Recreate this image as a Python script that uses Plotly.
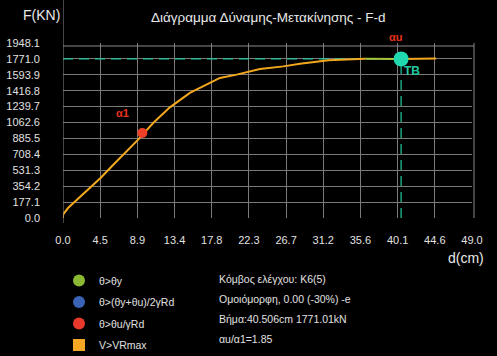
import plotly.graph_objects as go

# ---- data ----
d_cm = [0.0, 0.0, 0.6, 3.0, 4.5, 6.0, 9.0, 10.8, 12.8, 15.2, 17.6, 18.8, 20.8, 23.6,
        26.4, 28.4, 31.8, 34.0, 36.2]
F_kn = [0, 37, 111, 318, 445, 590, 872, 1058, 1232, 1392, 1503, 1559, 1596, 1659,
        1688, 1718, 1755, 1768, 1774]
d_green = [36.2, 38.5, 40.506]
F_green = [1774, 1772, 1771.01]
d_after = [40.506, 42.5, 44.7]
F_after = [1771.01, 1774, 1776]

a1_d, a1_F = 9.5, 947
tb_d, tb_F = 40.506, 1771.01

x_max = 49.0
y_max = 1948.1
n_int = 11
x_tickvals = [x_max * i / n_int for i in range(n_int + 1)]
x_ticktext = ["0.0", "4.5", "8.9", "13.4", "17.8", "22.3", "26.7", "31.2", "35.6", "40.1", "44.6", "49.0"]
y_tickvals = [y_max * i / n_int for i in range(n_int + 1)]
y_ticktext = ["0.0", "177.1", "354.2", "531.3", "708.4", "885.5", "1062.6", "1239.7",
              "1416.8", "1593.9", "1771.0", "1948.1"]

legend_names = ["θ>θy", "θ>(θy+θu)/2γRd", "θ>θu/γRd", "V>VRmax"]
legend_colors = ["#8ab833", "#3a63b5", "#e8392a", "#f5a623"]
legend_symbols = ["circle", "circle", "circle", "square"]

info_lines = ["Κόμβος ελέγχου: K6(5)", "Ομοιόμορφη, 0.00 (-30%) -e",
              "Βήμα:40.506cm 1771.01kN", "αu/α1=1.85"]

FONT = "Liberation Sans, Arial, sans-serif"
CURVE = "#f2a81d"
TEAL = "#22c9a0"

fig = go.Figure()

# dashed reference lines
fig.add_trace(go.Scatter(x=[0, tb_d], y=[tb_F, tb_F], mode="lines",
                         line=dict(color=TEAL, width=1.2, dash="10px,6px"),
                         showlegend=False, hoverinfo="skip"))
fig.add_trace(go.Scatter(x=[tb_d, tb_d], y=[0, tb_F], mode="lines",
                         line=dict(color=TEAL, width=1.2, dash="10px,6px"),
                         showlegend=False, hoverinfo="skip"))

# curve
fig.add_trace(go.Scatter(x=d_cm, y=F_kn, mode="lines",
                         line=dict(color=CURVE, width=2), showlegend=False))
fig.add_trace(go.Scatter(x=d_green, y=F_green, mode="lines",
                         line=dict(color="#a8c43c", width=2), showlegend=False))
fig.add_trace(go.Scatter(x=d_after, y=F_after, mode="lines",
                         line=dict(color=CURVE, width=2), showlegend=False))

# markers
fig.add_trace(go.Scatter(x=[a1_d], y=[a1_F], mode="markers",
                         marker=dict(color="#f0402a", size=10), showlegend=False))
fig.add_trace(go.Scatter(x=[tb_d], y=[tb_F], mode="markers",
                         marker=dict(color="#1fd8b0", size=15), showlegend=False))

# legend entries
for i, (name, col, sym) in enumerate(zip(legend_names, legend_colors, legend_symbols)):
    fig.add_trace(go.Scatter(x=[None], y=[None], mode="markers", name=name,
                             legendgroup="g%d" % i,
                             marker=dict(color=col, size=9, symbol=sym)))

L, R, T, B = 63, 25, 43, 138
W, H = 497, 356
pw, ph = W - L - R, H - T - B
def px2paper(px, py):
    return (px - L) / pw, 1 - (py - T) / ph

def px_text(text, px, py, size, color="#e8e8e8", xanchor="center", bold=False):
    xp, yp = px2paper(px, py)
    return dict(x=xp, y=yp, xref="paper", yref="paper",
                text=("<b>%s</b>" % text) if bold else text,
                showarrow=False, xanchor=xanchor, yanchor="middle",
                font=dict(color=color, size=size, family=FONT))

annotations = [
    dict(x=7.1, y=1173, xref="x", yref="y", text="<b>α1</b>", showarrow=False,
         xanchor="center", yanchor="middle",
         font=dict(color="#e8321e", size=11, family=FONT)),
    dict(x=41.8, y=1640, xref="x", yref="y", text="<b>TB</b>", showarrow=False,
         xanchor="center", yanchor="middle",
         font=dict(color=TEAL, size=12, family=FONT)),
    px_text("αu", 395, 37, 11, color="#e8321e", bold=True),
    px_text("Διάγραμμα Δύναμης-Μετακίνησης - F-d", 268, 17, 13.5),
    px_text("F(KN)", 41, 15, 14),
    px_text("d(cm)", 466, 258, 14),
]
for i, line in enumerate(info_lines):
    annotations.append(px_text(line, 217, [279, 299, 319, 338.5][i], 10.5,
                               color="#e0e0e0", xanchor="left"))

shapes = []
# left frame line extending above the plot
_, ytop = px2paper(64, 0)
_, ybot = px2paper(64, 223)
shapes.append(dict(type="line", xref="x", yref="paper", x0=0, x1=0, y0=ybot, y1=ytop,
                   line=dict(color="#8a8a8a", width=1)))
# inner frame lines (double line look)
_, yin = px2paper(64, 46)
xin, _ = px2paper(474, 0)
shapes.append(dict(type="line", xref="paper", yref="paper", x0=0, x1=xin, y0=yin, y1=yin,
                   line=dict(color="#8a8a8a", width=1)))
shapes.append(dict(type="line", xref="paper", yref="paper", x0=xin, x1=xin, y0=0, y1=1,
                   line=dict(color="#8a8a8a", width=1)))

lx, ly = px2paper(59, 266)
fig.update_layout(
    width=W, height=H,
    margin=dict(l=L, r=R, t=T, b=B, autoexpand=False),
    paper_bgcolor="black", plot_bgcolor="black",
    font=dict(family=FONT, color="#e0e0e0", size=11),
    xaxis=dict(range=[0, x_max], tickvals=x_tickvals, ticktext=x_ticktext,
               showgrid=True, gridcolor="#7a7a7a", gridwidth=1, zeroline=False,
               showline=False, ticks="", ticklabelstandoff=14, automargin=False,
               tickfont=dict(size=11, color="#e0e0e0")),
    yaxis=dict(range=[0, y_max], tickvals=y_tickvals, ticktext=y_ticktext,
               showgrid=True, gridcolor="#7a7a7a", gridwidth=1, zeroline=False,
               showline=False, ticks="", ticklabelstandoff=22, automargin=False,
               tickfont=dict(size=11, color="#e0e0e0")),
    showlegend=True,
    legend=dict(x=lx, y=ly, xanchor="left", yanchor="top", bgcolor="rgba(0,0,0,0)",
                font=dict(size=10.5, color="#e0e0e0", family=FONT), tracegroupgap=2.5,
                itemsizing="constant"),
    annotations=annotations,
    shapes=shapes,
)

fig.write_html("out.html")
